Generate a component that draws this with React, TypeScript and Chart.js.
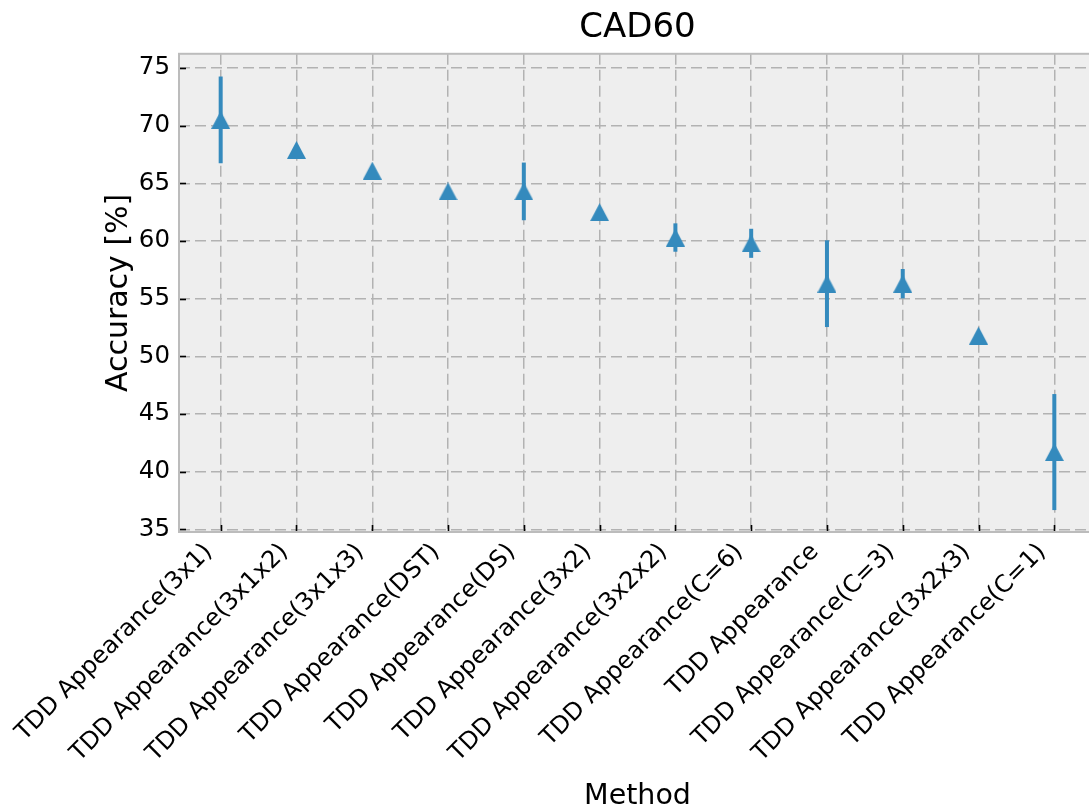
import { useEffect, useRef } from 'react';
import { Chart, registerables } from 'chart.js';

Chart.register(...registerables);

const categories = [
  'TDD Appearance(3x1)',
  'TDD Appearance(3x1x2)',
  'TDD Appearance(3x1x3)',
  'TDD Appearance(DST)',
  'TDD Appearance(DS)',
  'TDD Appearance(3x2)',
  'TDD Appearance(3x2x2)',
  'TDD Appearance(C=6)',
  'TDD Appearance',
  'TDD Appearance(C=3)',
  'TDD Appearance(3x2x3)',
  'TDD Appearance(C=1)',
];
const accuracy = [70.5, 67.9, 66.1, 64.3, 64.3, 62.5, 60.3, 59.8, 56.3, 56.3, 51.8, 41.7];
const errors = [3.76, 0, 0, 0, 2.5, 0, 1.23, 1.26, 3.76, 1.27, 0, 5.03];
const yTicks = [35, 40, 45, 50, 55, 60, 65, 70, 75];

const BLUE = '#348ABD';
const FONT = '"DejaVu Sans", "Liberation Sans", sans-serif';

export default function App() {
  const ref = useRef<HTMLCanvasElement>(null);

  useEffect(() => {
    const canvas = ref.current;
    if (!canvas) return;

    const marker = document.createElement('canvas');
    marker.width = 19;
    marker.height = 18;
    const m = marker.getContext('2d');
    if (m) {
      m.fillStyle = BLUE;
      m.beginPath();
      m.moveTo(9.5, 0);
      m.lineTo(19, 18);
      m.lineTo(0, 18);
      m.closePath();
      m.fill();
    }

    const bmh = {
      id: 'bmh',
      beforeDraw(chart: any) {
        const { ctx, chartArea: a } = chart;
        ctx.save();
        ctx.fillStyle = '#eeeeee';
        ctx.fillRect(a.left, a.top, a.right - a.left, a.bottom - a.top);
        ctx.restore();
      },
      beforeDatasetsDraw(chart: any) {
        const { ctx, scales } = chart;
        const xs = scales.x;
        const ys = scales.y;
        ctx.save();
        ctx.strokeStyle = BLUE;
        ctx.lineWidth = 4;
        ctx.lineCap = 'butt';
        accuracy.forEach((v, i) => {
          const e = errors[i];
          if (!e) return;
          const x = xs.getPixelForValue(i);
          ctx.beginPath();
          ctx.moveTo(x, ys.getPixelForValue(v - e));
          ctx.lineTo(x, ys.getPixelForValue(v + e));
          ctx.stroke();
        });
        ctx.restore();
      },
      afterDraw(chart: any) {
        const { ctx, chartArea: a, scales } = chart;
        ctx.save();
        ctx.strokeStyle = '#000';
        ctx.lineWidth = 1.6;
        categories.forEach((_, i) => {
          const x = Math.round(scales.x.getPixelForValue(i)) + 0.5;
          ctx.beginPath();
          ctx.moveTo(x, a.bottom);
          ctx.lineTo(x, a.bottom - 7);
          ctx.stroke();
        });
        yTicks.forEach((t) => {
          const y = Math.round(scales.y.getPixelForValue(t)) + 0.5;
          ctx.beginPath();
          ctx.moveTo(a.left, y);
          ctx.lineTo(a.left + 7, y);
          ctx.stroke();
        });
        ctx.strokeStyle = '#bcbcbc';
        ctx.lineWidth = 2;
        ctx.strokeRect(a.left, a.top, a.right - a.left, a.bottom - a.top);
        ctx.restore();
      },
    };

    const chart = new Chart(canvas, {
      type: 'scatter',
      data: {
        datasets: [
          {
            data: accuracy.map((v, i) => ({ x: i, y: v })),
            pointStyle: marker as any,
            pointRadius: 10,
            pointHoverRadius: 10,
            backgroundColor: BLUE,
            borderColor: BLUE,
            showLine: false,
          },
        ],
      },
      options: {
        animation: false,
        responsive: false,
        events: [],
        layout: { padding: { left: 0, right: 0, top: 0, bottom: 0 } },
        plugins: {
          legend: { display: false },
          tooltip: { enabled: false },
          title: {
            display: true,
            text: 'CAD60',
            color: '#000',
            fullSize: false,
            font: { family: FONT, size: 34, weight: 'normal' },
            padding: { top: 8, bottom: 5 },
          },
        },
        scales: {
          x: {
            type: 'linear',
            min: -0.55,
            max: 11.55,
            afterBuildTicks(scale: any) {
              scale.ticks = categories.map((_, i) => ({ value: i }));
            },
            afterFit(scale: any) {
              scale.height = 277;
              scale.paddingLeft = 0;
              scale.paddingRight = 0;
            },
            grid: {
              color: '#b2b2b2',
              lineWidth: 1.5,
              drawTicks: false,
              drawOnChartArea: true,
            },
            border: { display: false, dash: [11, 5] },
            ticks: {
              autoSkip: false,
              minRotation: 45,
              maxRotation: 45,
              padding: 6,
              labelOffset: -12,
              color: '#000',
              font: { family: FONT, size: 24 },
              callback: (v: any) => categories[Number(v)] ?? '',
            },
            title: {
              display: true,
              text: 'Method',
              color: '#000',
              font: { family: FONT, size: 28.5 },
              padding: { top: 0, bottom: -5 },
            },
          },
          y: {
            type: 'linear',
            min: 34.77,
            max: 76.23,
            afterBuildTicks(scale: any) {
              scale.ticks = yTicks.map((v) => ({ value: v }));
            },
            afterFit(scale: any) {
              scale.width = 179;
            },
            grid: {
              color: '#b2b2b2',
              lineWidth: 1.5,
              drawTicks: false,
            },
            border: { display: false, dash: [11, 5] },
            ticks: {
              padding: 9,
              color: '#000',
              font: { family: FONT, size: 24.5 },
            },
            title: {
              display: true,
              text: 'Accuracy [%]',
              color: '#000',
              font: { family: FONT, size: 30 },
              padding: { top: 101, bottom: 0 },
            },
          },
        },
      },
      plugins: [bmh],
    });

    return () => chart.destroy();
  }, []);

  return (
    <div
      style={{
        position: 'fixed',
        left: 0,
        top: 0,
        width: 1089,
        height: 809,
        overflow: 'hidden',
        background: '#fff',
      }}
    >
      <canvas ref={ref} width={1107} height={809} style={{ width: 1107, height: 809, display: 'block' }} />
    </div>
  );
}
